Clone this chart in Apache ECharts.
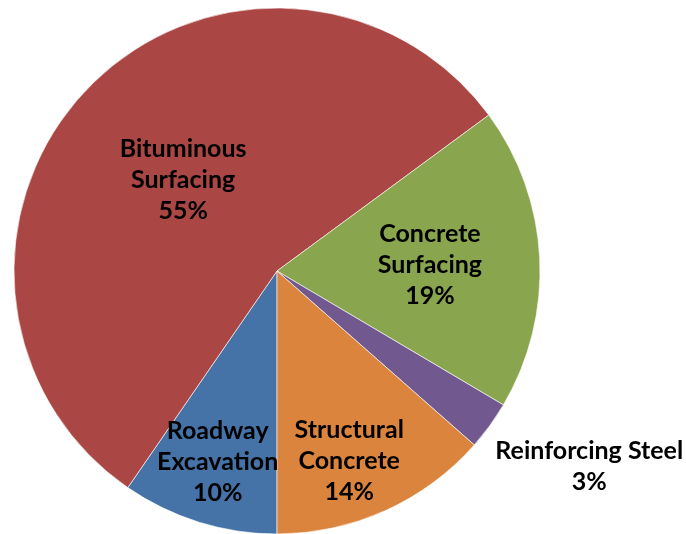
<!DOCTYPE html>
<html>
<head>
<meta charset="utf-8">
<script src="https://cdn.jsdelivr.net/npm/echarts@6/dist/echarts.min.js"></script>
<style>
html,body{margin:0;padding:0;background:#fff;}
#chart{width:686px;height:534px;}
</style>
</head>
<body>
<div id="chart"></div>
<script>
// Data (percent shares)
const categories = ['Roadway\nExcavation', 'Bituminous\nSurfacing', 'Concrete\nSurfacing', 'Reinforcing Steel', 'Structural\nConcrete'];
const shares = [9.6, 55.3, 18.6, 3.0, 13.5];

// Styles
const colors = ['#4572A7', '#AA4643', '#89A54E', '#71588F', '#DB843D'];
// label placement: [fraction of radius, angle offset in degrees (clockwise)]
const labelPlacement = [[0.76, 0], [0.497, 0], [0.582, 0.7], [1.40, -4], [0.773, 3.5]];

const CX = 277, CY = 271, R = 263;
const total = shares.reduce((a, b) => a + b, 0);
// mid angles, clockwise from top, starting at bottom (180deg)
const midAngles = [];
let acc = 180;
shares.forEach(v => {
  const w = v / total * 360;
  midAngles.push(acc + w / 2);
  acc += w;
});

const chart = echarts.init(document.getElementById('chart'), null, {renderer: 'canvas'});
chart.setOption({
  animation: false,
  color: colors,
  series: [{
    type: 'pie',
    center: [CX, CY],
    radius: R,
    startAngle: 270,
    clockwise: true,
    avoidLabelOverlap: false,
    itemStyle: {borderColor: 'rgba(255,255,255,0.6)', borderWidth: 1},
    label: {
      show: true,
      position: 'outside',
      color: '#000',
      fontFamily: 'Lato',
      fontWeight: 'bold',
      fontSize: 25,
      lineHeight: 31,
      align: 'center',
      formatter: p => p.name + '\n' + Math.round(p.percent) + '%'
    },
    labelLine: {show: false},
    emphasis: {disabled: true},
    data: categories.map((c, i) => ({name: c, value: shares[i]})),
    labelLayout: function (params) {
      const i = params.dataIndex;
      const pl = labelPlacement[i];
      const th = (midAngles[i] + pl[1]) * Math.PI / 180;
      return {
        x: CX + pl[0] * R * Math.sin(th),
        y: CY - pl[0] * R * Math.cos(th),
        align: 'center',
        verticalAlign: 'middle',
        hideOverlap: false
      };
    }
  }]
});
</script>
</body>
</html>
